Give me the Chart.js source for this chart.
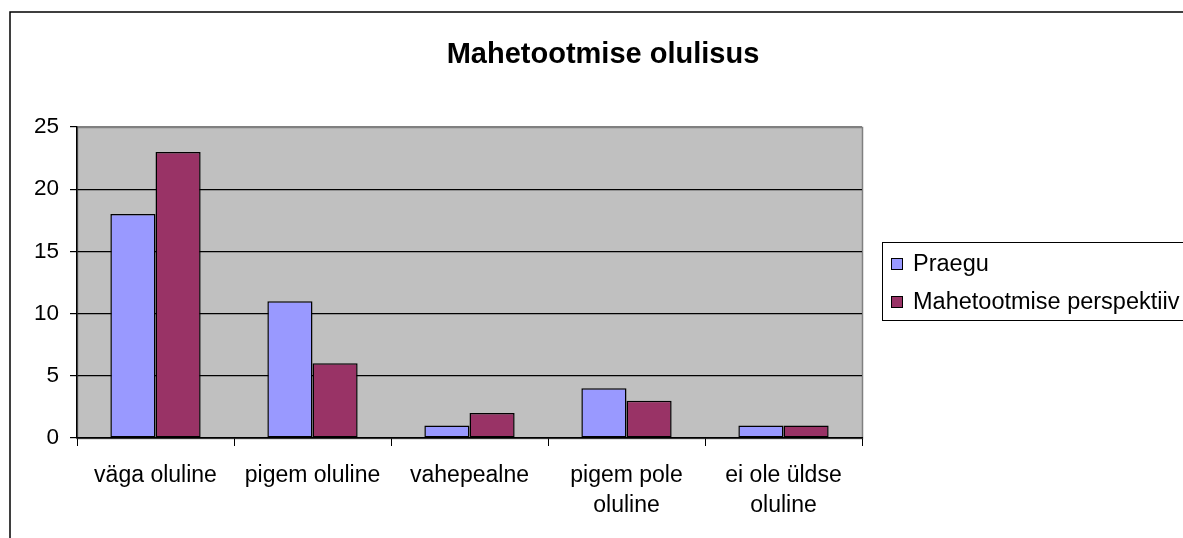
<!DOCTYPE html>
<html>
<head>
<meta charset="utf-8">
<script src="https://cdn.jsdelivr.net/npm/chart.js@4/dist/chart.umd.min.js"></script>
<style>
    html, body { margin: 0; padding: 0; background: #fff; }
    #wrap { width: 1183px; height: 538px; }
</style>
</head>
<body>
<div id="wrap"><canvas id="chart" width="1183" height="538"></canvas></div>
<script>
// chart data
const chartTitle = 'Mahetootmise olulisus';
const categories = [
    'väga oluline',
    'pigem oluline',
    'vahepealne',
    ['pigem pole', 'oluline'],
    ['ei ole üldse', 'oluline']
];
const seriesNames = ['Praegu', 'Mahetootmise perspektiiv'];
const praegu = [18, 11, 1, 4, 1];
const perspektiiv = [23, 6, 2, 3, 1];
const yTicks = [0, 5, 10, 15, 20, 25];

const FONT = '"Liberation Sans", Arial, sans-serif';
const COLORS = ['#9999FF', '#993366'];

// frame, plot background, title and legend like the old Excel chart
const excelFrame = {
    id: 'excelFrame',
    beforeDraw(chart) {
        const ctx = chart.ctx;
        const a = chart.chartArea;
        ctx.save();
        ctx.fillStyle = '#fff';
        ctx.fillRect(0, 0, chart.width, chart.height);
        ctx.fillStyle = '#C0C0C0';
        ctx.fillRect(a.left, a.top, a.right - a.left, a.bottom - a.top);
        ctx.strokeStyle = '#808080';
        ctx.lineWidth = 1.5;
        ctx.strokeRect(a.left + 0.5, a.top + 0.5, a.right - a.left, a.bottom - a.top);
        ctx.restore();
    },
    afterDraw(chart) {
        const ctx = chart.ctx;
        ctx.save();
        // outer chart border (runs off the right/bottom edge)
        ctx.strokeStyle = '#000';
        ctx.lineWidth = 1.5;
        ctx.strokeRect(10, 12, 1400, 800);

        // title
        ctx.fillStyle = '#000';
        ctx.font = 'bold 29px ' + FONT;
        ctx.textAlign = 'center';
        ctx.textBaseline = 'middle';
        ctx.fillText(chartTitle, 603, 55);

        // legend
        ctx.lineWidth = 1;
        ctx.strokeRect(882.5, 242.5, 400, 78);
        ctx.font = '23.5px ' + FONT;
        ctx.textAlign = 'left';
        chart.data.datasets.forEach((ds, i) => {
            const y = 264 + i * 38;
            ctx.fillStyle = ds.backgroundColor;
            ctx.fillRect(891, y - 6, 12, 12);
            ctx.strokeStyle = '#000';
            ctx.strokeRect(891.5, y - 5.5, 11, 11);
            ctx.fillStyle = '#000';
            ctx.fillText(ds.label, 913, y + 1);
        });
        ctx.restore();
    }
};

new Chart(document.getElementById('chart'), {
    type: 'bar',
    data: {
        labels: categories,
        datasets: [
            {
                label: seriesNames[0],
                data: praegu,
                backgroundColor: COLORS[0],
                borderColor: '#000',
                borderWidth: 1.5,
                borderSkipped: false
            },
            {
                label: seriesNames[1],
                data: perspektiiv,
                backgroundColor: COLORS[1],
                borderColor: '#000',
                borderWidth: 1.5,
                borderSkipped: false
            }
        ]
    },
    options: {
        responsive: false,
        animation: false,
        devicePixelRatio: 1,
        layout: {
            padding: { left: 0, right: 321, top: 127, bottom: 0 }
        },
        datasets: {
            bar: {
                categoryPercentage: 0.575,
                barPercentage: 1
            }
        },
        plugins: {
            legend: { display: false },
            title: { display: false },
            tooltip: { enabled: false }
        },
        scales: {
            x: {
                offset: true,
                afterFit(scale) { scale.height = 100; },
                grid: {
                    offset: true,
                    drawOnChartArea: false,
                    drawTicks: true,
                    tickLength: 8,
                    color: '#000'
                },
                border: { display: true, color: '#000', width: 1.5 },
                ticks: {
                    color: '#000',
                    padding: 15,
                    maxRotation: 0,
                    autoSkip: false,
                    font: { family: FONT, size: 23, lineHeight: 1.3 }
                }
            },
            y: {
                min: 0,
                max: 25,
                afterFit(scale) { scale.width = 77; },
                afterBuildTicks(scale) {
                    scale.ticks = yTicks.map(v => ({ value: v }));
                },
                grid: {
                    color: ctx => (ctx.tick && ctx.tick.value === 25) ? '#808080' : '#000',
                    tickColor: '#000',
                    tickLength: 7,
                    lineWidth: 1.2
                },
                border: { display: true, color: '#000', width: 1.5 },
                ticks: {
                    color: '#000',
                    padding: 11,
                    font: { family: FONT, size: 22.5 }
                }
            }
        }
    },
    plugins: [excelFrame]
});
</script>
</body>
</html>
